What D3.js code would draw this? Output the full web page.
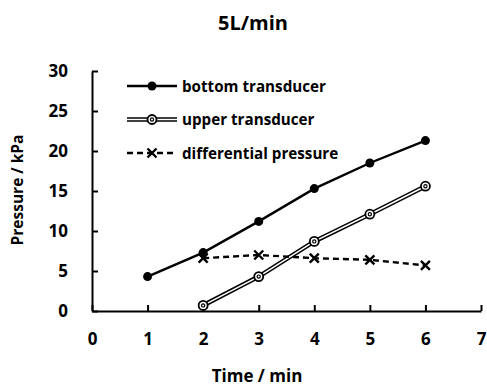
<!DOCTYPE html>
<html>
<head>
<meta charset="utf-8">
<script src="https://cdn.jsdelivr.net/npm/d3@7"></script>
<style>
  body { margin: 0; background: #fff; }
  text { font-family: "Open Sans", sans-serif; font-weight: bold; }
</style>
</head>
<body>
<svg id="chart" width="487" height="390"></svg>
<script>
// values
var bottomTime = [1, 2, 3, 4, 5, 6];
var bottomP = [4.3, 7.3, 11.2, 15.3, 18.5, 21.3];
var upperTime = [2, 3, 4, 5, 6];
var upperP = [0.7, 4.3, 8.7, 12.1, 15.6];
var diffTime = [2, 3, 4, 5, 6];
var diffP = [6.6, 7.0, 6.6, 6.4, 5.7];
var xTicks = [0, 1, 2, 3, 4, 5, 6, 7];
var yTicks = [0, 5, 10, 15, 20, 25, 30];
var legendNames = ["bottom transducer", "upper transducer", "differential pressure"];

var svg = d3.select("#chart");
var margin = { top: 71, right: 6, bottom: 79, left: 92 };
var width = 487 - margin.left - margin.right;
var height = 390 - margin.top - margin.bottom;

var g = svg.append("g")
    .attr("transform", "translate(" + margin.left + "," + margin.top + ")");

var x = d3.scaleLinear().domain([0, 7]).range([0, width]);
var y = d3.scaleLinear().domain([0, 30]).range([height, 0]);

// axes, ticks point inward
var xAxis = g.append("g")
    .attr("transform", "translate(0," + height + ")")
    .call(d3.axisBottom(x).tickValues(xTicks).tickFormat(d3.format("d"))
        .tickSizeInner(-6).tickSizeOuter(0).tickPadding(22));
var yAxis = g.append("g")
    .call(d3.axisLeft(y).tickValues(yTicks).tickFormat(d3.format("d"))
        .tickSizeInner(-6).tickSizeOuter(0));

[xAxis, yAxis].forEach(function (a) {
    a.select(".domain").attr("stroke", "#000").attr("stroke-width", 2);
    a.selectAll(".tick line").attr("stroke", "#000").attr("stroke-width", 2);
    a.selectAll(".tick text").attr("font-size", 17).attr("fill", "#000")
        .style("font-family", "'Open Sans', sans-serif").style("font-weight", "bold");
});
yAxis.selectAll(".tick text").attr("x", -24);

function pts(xs, ys) {
    return xs.map(function (d, i) { return [d, ys[i]]; });
}
var line = d3.line().x(function (d) { return x(d[0]); }).y(function (d) { return y(d[1]); });

var bottomData = pts(bottomTime, bottomP);
var upperData = pts(upperTime, upperP);
var diffData = pts(diffTime, diffP);

// upper transducer: double line
g.append("path").datum(upperData).attr("d", line)
    .attr("fill", "none").attr("stroke", "#000").attr("stroke-width", 4.6);
g.append("path").datum(upperData).attr("d", line)
    .attr("fill", "none").attr("stroke", "#fff").attr("stroke-width", 1.6);

// bottom transducer
g.append("path").datum(bottomData).attr("d", line)
    .attr("fill", "none").attr("stroke", "#000").attr("stroke-width", 2.4);

// differential
g.append("path").datum(diffData).attr("d", line)
    .attr("fill", "none").attr("stroke", "#000").attr("stroke-width", 2.4)
    .attr("stroke-dasharray", "6,4");

function dotMarker(sel) {
    sel.append("circle").attr("r", 4.5).attr("fill", "#000");
}
function ringMarker(sel) {
    sel.append("circle").attr("r", 4.5).attr("fill", "#fff").attr("stroke", "#000").attr("stroke-width", 1.8);
    sel.append("circle").attr("r", 1.6).attr("fill", "none").attr("stroke", "#000").attr("stroke-width", 1.2);
}
function crossMarker(sel) {
    sel.append("path").attr("d", "M-4.5,-4.5L4.5,4.5M-4.5,4.5L4.5,-4.5")
        .attr("stroke", "#000").attr("stroke-width", 2.4);
}

g.selectAll(".bdot").data(bottomData).enter().append("g")
    .attr("transform", function (d) { return "translate(" + x(d[0]) + "," + y(d[1]) + ")"; })
    .call(dotMarker);
g.selectAll(".udot").data(upperData).enter().append("g")
    .attr("transform", function (d) { return "translate(" + x(d[0]) + "," + y(d[1]) + ")"; })
    .call(ringMarker);
g.selectAll(".ddot").data(diffData).enter().append("g")
    .attr("transform", function (d) { return "translate(" + x(d[0]) + "," + y(d[1]) + ")"; })
    .call(crossMarker);

// legend
var legend = svg.append("g").attr("transform", "translate(127,86)");
var markers = [dotMarker, ringMarker, crossMarker];
legendNames.forEach(function (name, i) {
    var row = legend.append("g").attr("transform", "translate(0," + (i * 33.5) + ")");
    if (i == 1) {
        row.append("line").attr("x1", 0).attr("x2", 50).attr("stroke", "#000").attr("stroke-width", 4.6);
        row.append("line").attr("x1", 0).attr("x2", 50).attr("stroke", "#fff").attr("stroke-width", 1.6);
    } else {
        row.append("line").attr("x1", 0).attr("x2", 50).attr("stroke", "#000").attr("stroke-width", 2.4)
            .attr("stroke-dasharray", i == 2 ? "6,4" : null);
    }
    row.append("g").attr("transform", "translate(25,0)").call(markers[i]);
    row.append("text").attr("x", 55).attr("y", 5.5).attr("font-size", 15.2).text(name);
});

// titles
svg.append("text").attr("x", 253).attr("y", 30).attr("text-anchor", "middle")
    .attr("font-size", 20).text("5L/min");
svg.append("text").attr("x", 257).attr("y", 382).attr("text-anchor", "middle")
    .attr("font-size", 17).text("Time / min");
svg.append("text").attr("transform", "translate(23,190) rotate(-90)").attr("text-anchor", "middle")
    .attr("font-size", 15.5).text("Pressure / kPa");
</script>
</body>
</html>
